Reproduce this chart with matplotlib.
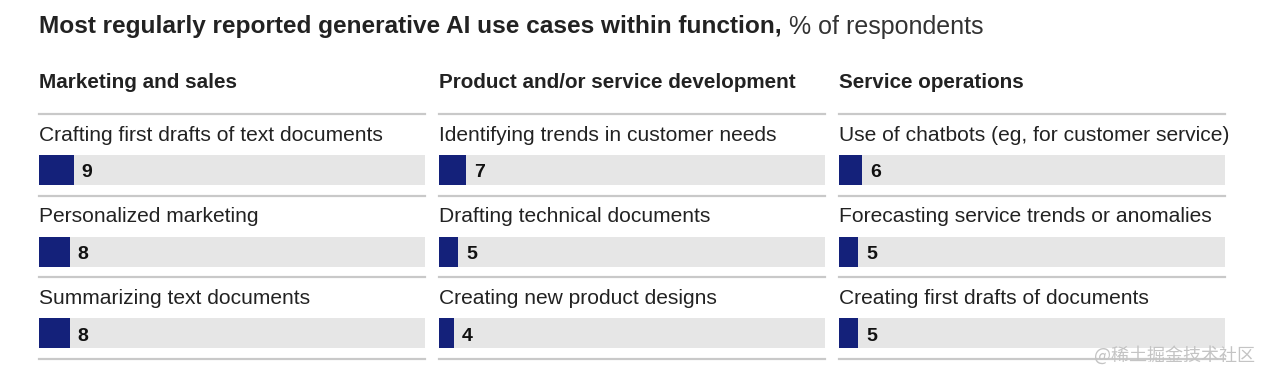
import matplotlib.pyplot as plt

# data
title_bold = "Most regularly reported generative AI use cases within function,"
title_rest = " % of respondents"
functions = ["Marketing and sales", "Product and/or service development", "Service operations"]
use_cases = [
    ["Crafting first drafts of text documents", "Personalized marketing", "Summarizing text documents"],
    ["Identifying trends in customer needs", "Drafting technical documents", "Creating new product designs"],
    ["Use of chatbots (eg, for customer service)", "Forecasting service trends or anomalies",
     "Creating first drafts of documents"],
]
shares = [
    [9, 8, 8],
    [7, 5, 4],
    [6, 5, 5],
]

navy = "#14217a"
track = "#e6e6e6"
rule = "#c9c9c9"
ink = "#222222"

plt.rcParams['font.family'] = ['Liberation Sans', 'DejaVu Sans']

W, H = 1270, 381
fig = plt.figure(figsize=(W / 100, H / 100), dpi=100)

col_left = [39, 439, 839]
col_w = 386
top_px, bot_px = 114, 359

t1 = fig.text(39 / W, 1 - 27 / H, title_bold, fontsize=17.6, fontweight='bold',
              color=ink, va='center', ha='left')

for i, fn in enumerate(functions):
    ax = fig.add_axes([col_left[i] / W, 1 - bot_px / H, col_w / W, (bot_px - top_px) / H])
    ax.set_xlim(0, 100)
    ax.set_ylim(3, 0)
    ax.axis('off')
    rows = range(len(use_cases[i]))
    bar_y = [r + 0.685 for r in rows]
    ax.barh(bar_y, [100] * len(bar_y), height=0.37, color=track, left=0)
    ax.barh(bar_y, shares[i], height=0.37, color=navy, left=0)
    for r in range(4):
        ax.axhline(r, color=rule, lw=1.6, clip_on=False)
    for r, (lab, v) in enumerate(zip(use_cases[i], shares[i])):
        ax.text(0, r + 0.26, lab, fontsize=15.1, color=ink, va='center', ha='left')
        ax.text(v + 2, r + 0.72, str(v), fontsize=14, fontweight='bold', color='#111111',
                va='center', ha='left')
    ax.text(0, -0.39, fn, fontsize=14.9, fontweight='bold', color=ink, va='center', ha='left')
    if i == 0:
        ax.annotate(title_rest, xy=(1, 0.5), xycoords=t1, fontsize=18, color='#333333',
                    va='center', ha='left', annotation_clip=False)

fig.text(1255 / W, 1 - 355 / H, "@稀土掘金技术社区", fontsize=13, color='#c4c4c4',
         ha='right', va='center', family=['Noto Sans CJK SC', 'DejaVu Sans'])

fig.savefig("out.png", dpi=100)
